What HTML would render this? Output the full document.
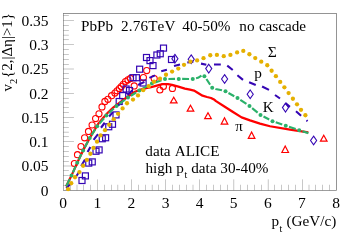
<!DOCTYPE html>
<html><head><meta charset="utf-8"><title>v2</title>
<style>html,body{margin:0;padding:0;background:#fff;}svg{display:block;will-change:transform;}text{font-family:"Liberation Serif",serif;fill:#000;font-kerning:none;}</style></head><body>
<svg width="352" height="249" viewBox="0 0 352 249">
<rect x="0" y="0" width="352" height="249" fill="#fff"/>
<g fill="#000"><rect x="63.14" y="13.20" width="273.37" height="0.42"/><rect x="63.14" y="190.06" width="273.37" height="0.38"/><rect x="63.18" y="13.41" width="0.34" height="176.84"/><rect x="336.09" y="13.41" width="0.42" height="176.84"/><rect x="63.35" y="185.29" width="5.50" height="0.22"/><rect x="63.35" y="180.44" width="5.50" height="0.22"/><rect x="63.35" y="175.59" width="5.50" height="0.22"/><rect x="63.35" y="170.74" width="5.50" height="0.22"/><rect x="63.35" y="165.89" width="10.60" height="0.22"/><rect x="63.35" y="161.04" width="5.50" height="0.22"/><rect x="63.35" y="156.19" width="5.50" height="0.22"/><rect x="63.35" y="151.34" width="5.50" height="0.22"/><rect x="63.35" y="146.49" width="5.50" height="0.22"/><rect x="63.35" y="141.64" width="10.60" height="0.22"/><rect x="63.35" y="136.79" width="5.50" height="0.22"/><rect x="63.35" y="131.94" width="5.50" height="0.22"/><rect x="63.35" y="127.09" width="5.50" height="0.22"/><rect x="63.35" y="122.24" width="5.50" height="0.22"/><rect x="63.35" y="117.39" width="10.60" height="0.22"/><rect x="63.35" y="112.54" width="5.50" height="0.22"/><rect x="63.35" y="107.69" width="5.50" height="0.22"/><rect x="63.35" y="102.84" width="5.50" height="0.22"/><rect x="63.35" y="97.99" width="5.50" height="0.22"/><rect x="63.35" y="93.14" width="10.60" height="0.22"/><rect x="63.35" y="88.29" width="5.50" height="0.22"/><rect x="63.35" y="83.44" width="5.50" height="0.22"/><rect x="63.35" y="78.59" width="5.50" height="0.22"/><rect x="63.35" y="73.74" width="5.50" height="0.22"/><rect x="63.35" y="68.89" width="10.60" height="0.22"/><rect x="63.35" y="64.04" width="5.50" height="0.22"/><rect x="63.35" y="59.19" width="5.50" height="0.22"/><rect x="63.35" y="54.34" width="5.50" height="0.22"/><rect x="63.35" y="49.49" width="5.50" height="0.22"/><rect x="63.35" y="44.64" width="10.60" height="0.22"/><rect x="63.35" y="39.79" width="5.50" height="0.22"/><rect x="63.35" y="34.94" width="5.50" height="0.22"/><rect x="63.35" y="30.09" width="5.50" height="0.22"/><rect x="63.35" y="25.24" width="5.50" height="0.22"/><rect x="63.35" y="20.39" width="10.60" height="0.22"/><rect x="63.35" y="15.54" width="5.50" height="0.22"/><rect x="70.06" y="184.75" width="0.22" height="5.50"/><rect x="76.89" y="184.75" width="0.22" height="5.50"/><rect x="83.71" y="184.75" width="0.22" height="5.50"/><rect x="90.54" y="184.75" width="0.22" height="5.50"/><rect x="97.36" y="179.35" width="0.22" height="10.90"/><rect x="104.18" y="184.75" width="0.22" height="5.50"/><rect x="111.01" y="184.75" width="0.22" height="5.50"/><rect x="117.83" y="184.75" width="0.22" height="5.50"/><rect x="124.65" y="184.75" width="0.22" height="5.50"/><rect x="131.48" y="179.35" width="0.22" height="10.90"/><rect x="138.30" y="184.75" width="0.22" height="5.50"/><rect x="145.12" y="184.75" width="0.22" height="5.50"/><rect x="151.95" y="184.75" width="0.22" height="5.50"/><rect x="158.77" y="184.75" width="0.22" height="5.50"/><rect x="165.60" y="179.35" width="0.22" height="10.90"/><rect x="172.42" y="184.75" width="0.22" height="5.50"/><rect x="179.24" y="184.75" width="0.22" height="5.50"/><rect x="186.07" y="184.75" width="0.22" height="5.50"/><rect x="192.89" y="184.75" width="0.22" height="5.50"/><rect x="199.71" y="179.35" width="0.22" height="10.90"/><rect x="206.54" y="184.75" width="0.22" height="5.50"/><rect x="213.36" y="184.75" width="0.22" height="5.50"/><rect x="220.19" y="184.75" width="0.22" height="5.50"/><rect x="227.01" y="184.75" width="0.22" height="5.50"/><rect x="233.83" y="179.35" width="0.22" height="10.90"/><rect x="240.66" y="184.75" width="0.22" height="5.50"/><rect x="247.48" y="184.75" width="0.22" height="5.50"/><rect x="254.30" y="184.75" width="0.22" height="5.50"/><rect x="261.13" y="184.75" width="0.22" height="5.50"/><rect x="267.95" y="179.35" width="0.22" height="10.90"/><rect x="274.78" y="184.75" width="0.22" height="5.50"/><rect x="281.60" y="184.75" width="0.22" height="5.50"/><rect x="288.42" y="184.75" width="0.22" height="5.50"/><rect x="295.25" y="184.75" width="0.22" height="5.50"/><rect x="302.07" y="179.35" width="0.22" height="10.90"/><rect x="308.89" y="184.75" width="0.22" height="5.50"/><rect x="315.72" y="184.75" width="0.22" height="5.50"/><rect x="322.54" y="184.75" width="0.22" height="5.50"/><rect x="329.37" y="184.75" width="0.22" height="5.50"/></g>
<text x="48.6" y="195.65" font-size="15.5" text-anchor="end">0</text><text x="48.6" y="171.40" font-size="15.5" text-anchor="end">0.05</text><text x="48.6" y="147.15" font-size="15.5" text-anchor="end">0.1</text><text x="48.6" y="122.90" font-size="15.5" text-anchor="end">0.15</text><text x="48.6" y="98.65" font-size="15.5" text-anchor="end">0.2</text><text x="48.6" y="74.40" font-size="15.5" text-anchor="end">0.25</text><text x="48.6" y="50.15" font-size="15.5" text-anchor="end">0.3</text><text x="48.6" y="25.90" font-size="15.5" text-anchor="end">0.35</text><text x="63.15" y="207.8" font-size="15.5" text-anchor="middle">0</text><text x="97.27" y="207.8" font-size="15.5" text-anchor="middle">1</text><text x="131.39" y="207.8" font-size="15.5" text-anchor="middle">2</text><text x="165.51" y="207.8" font-size="15.5" text-anchor="middle">3</text><text x="199.62" y="207.8" font-size="15.5" text-anchor="middle">4</text><text x="233.74" y="207.8" font-size="15.5" text-anchor="middle">5</text><text x="267.86" y="207.8" font-size="15.5" text-anchor="middle">6</text><text x="301.98" y="207.8" font-size="15.5" text-anchor="middle">7</text><text x="336.10" y="207.8" font-size="15.5" text-anchor="middle">8</text>
<text x="81" y="30.5" font-size="15.2">PbPb</text>
<text x="121.1" y="30.5" font-size="15.2" letter-spacing="0.13">2.76TeV</text>
<text x="182.3" y="30.5" font-size="15.2">40-50%</text>
<text x="239.3" y="30.5" font-size="15.2" word-spacing="0.6">no cascade</text>
<text x="145.3" y="155.5" font-size="15.2" word-spacing="0.4">data ALICE</text>
<text x="145.4" y="173" font-size="15.2" word-spacing="0.1">high p<tspan font-size="10" dy="5.3" dx="0.6">t</tspan><tspan dy="-5.3"> data 30-40%</tspan></text>
<text x="271.4" y="226.3" font-size="15.2">p<tspan font-size="10" dy="5.2" dx="0.5">t</tspan><tspan dy="-5.2" dx="0.5"> (GeV/c)</tspan></text>
<text x="267.8" y="57.1" font-size="15.6">Σ</text>
<text x="254.3" y="78.3" font-size="15.3">p</text>
<text x="262.8" y="111.9" font-size="15">K</text>
<text x="235.3" y="131.3" font-size="15">π</text>
<text transform="translate(12.35,91.6) rotate(-90)" font-size="15">v<tspan font-size="10.5" dy="4.5">2</tspan><tspan dy="-4.5" dx="0.8">{2,|Δη|&gt;1}</tspan></text>
<g fill="none" stroke="#ff0000" stroke-width="1.1"><circle cx="74.4" cy="163.5" r="3.05"/><circle cx="77.5" cy="154.7" r="3.05"/><circle cx="81" cy="146.5" r="3.05"/><circle cx="84.6" cy="137.8" r="3.05"/><circle cx="88.5" cy="131.4" r="3.05"/><circle cx="92.1" cy="125" r="3.05"/><circle cx="95.6" cy="118.6" r="3.05"/><circle cx="99" cy="113.8" r="3.05"/><circle cx="102.0" cy="106.9" r="3.05"/><circle cx="104.9" cy="101.4" r="3.05"/><circle cx="107.9" cy="99.3" r="3.05"/><circle cx="111.6" cy="95.7" r="3.05"/><circle cx="114.9" cy="93.1" r="3.05"/><circle cx="117.1" cy="90.8" r="3.05"/><circle cx="119.4" cy="88.6" r="3.05"/><circle cx="121.3" cy="86.6" r="3.05"/><circle cx="123.3" cy="84.3" r="3.05"/><circle cx="125.5" cy="81.5" r="3.05"/><circle cx="128.0" cy="79.8" r="3.05"/><circle cx="130.5" cy="78.4" r="3.05"/><circle cx="134.2" cy="85.9" r="3.05"/><circle cx="143.4" cy="77.6" r="3.05"/><circle cx="146.7" cy="70.6" r="3.05"/><circle cx="154.2" cy="78.6" r="3.05"/><circle cx="159.9" cy="90" r="3.05"/><circle cx="163.4" cy="86.5" r="3.05"/><circle cx="172.4" cy="88.4" r="3.05"/></g>
<g fill="none" stroke="#3506b4" stroke-width="1.2"><rect x="79.00" y="177.50" width="6.0" height="6.0"/><rect x="82.40" y="172.90" width="6.0" height="6.0"/><rect x="85.75" y="160.10" width="6.0" height="6.0"/><rect x="89.25" y="158.90" width="6.0" height="6.0"/><rect x="93.00" y="148.25" width="6.0" height="6.0"/><rect x="96.10" y="146.90" width="6.0" height="6.0"/><rect x="99.25" y="135.75" width="6.0" height="6.0"/><rect x="102.60" y="134.75" width="6.0" height="6.0"/><rect x="105.75" y="123.75" width="6.0" height="6.0"/><rect x="109.50" y="121.25" width="6.0" height="6.0"/><rect x="113.00" y="111.90" width="6.0" height="6.0"/><rect x="116.20" y="98.50" width="6.0" height="6.0"/><rect x="119.70" y="92.60" width="6.0" height="6.0"/><rect x="123.10" y="86.00" width="6.0" height="6.0"/><rect x="126.50" y="87.50" width="6.0" height="6.0"/><rect x="130.00" y="74.70" width="6.0" height="6.0"/><rect x="133.45" y="74.70" width="6.0" height="6.0"/><rect x="136.65" y="66.20" width="6.0" height="6.0"/><rect x="140.10" y="80.00" width="6.0" height="6.0"/><rect x="143.50" y="54.50" width="6.0" height="6.0"/><rect x="147.00" y="57.60" width="6.0" height="6.0"/><rect x="150.00" y="62.60" width="6.0" height="6.0"/><rect x="153.90" y="52.00" width="6.0" height="6.0"/><rect x="157.25" y="50.75" width="6.0" height="6.0"/><rect x="160.50" y="45.10" width="6.0" height="6.0"/><rect x="168.50" y="56.50" width="6.0" height="6.0"/></g>
<g fill="none" stroke="#ff0000" stroke-width="1.2" stroke-linejoin="miter"><path d="M173.75,97.3 L177.05,102.9 L170.45,102.9 Z"/><path d="M190.5,105.2 L193.8,111.10000000000001 L187.2,111.10000000000001 Z"/><path d="M208,112.8 L211.3,118.7 L204.7,118.7 Z"/><path d="M224.5,117.8 L227.8,124.10000000000001 L221.2,124.10000000000001 Z"/><path d="M251.6,132.0 L254.9,138.4 L248.29999999999998,138.4 Z"/><path d="M285.2,146.10000000000002 L288.5,152.5 L281.9,152.5 Z"/><path d="M323.75,135.20000000000002 L327.05,141.20000000000002 L320.45,141.20000000000002 Z"/></g>
<g fill="none" stroke="#3506b4" stroke-width="1.1"><path d="M174.9,54.35 L177.95000000000002,58.7 L174.9,63.050000000000004 L171.85,58.7 Z"/><path d="M191.2,54.85 L194.25,59.2 L191.2,63.550000000000004 L188.14999999999998,59.2 Z"/><path d="M208.75,64.25 L211.8,68.6 L208.75,72.94999999999999 L205.7,68.6 Z"/><path d="M224.6,74.65 L227.65,79 L224.6,83.35 L221.54999999999998,79 Z"/><path d="M250.2,89.95 L253.25,94.3 L250.2,98.64999999999999 L247.14999999999998,94.3 Z"/><path d="M285.5,103.25 L288.55,107.6 L285.5,111.94999999999999 L282.45,107.6 Z"/><path d="M313.6,136.15 L316.65000000000003,140.5 L313.6,144.85 L310.55,140.5 Z"/></g>
<path d="M66.10,186.40 L71.50,175.60 L77.25,162.75 L83.10,150.50 L89.75,138.00 L94.00,131.00 L98.50,123.40 L103.00,118.00 L108.00,112.50 L113.50,107.30 L120.00,102.30 L128.00,96.50 L135.00,91.70 L140.00,89.90 L146.00,88.20 L150.00,87.50 L155.00,86.20 L162.50,84.20 L168.00,84.10 L172.00,84.80 L178.40,86.70 L184.90,88.60 L190.00,89.70 L194.00,90.60 L196.00,91.70 L202.50,95.70 L207.00,97.00 L211.00,98.00 L214.50,99.80 L216.00,101.10 L224.00,106.20 L233.00,112.00 L241.60,117.40 L250.00,120.40 L260.00,123.60 L270.00,126.25 L290.00,129.60 L308.30,132.40" fill="none" stroke="#ff0000" stroke-width="2.25" stroke-linejoin="round"/>
<path d="M66.30,188.20 L70.20,184.00 M76.25,176.25 L78.75,172.50 M81.20,166.00 L85.00,159.60 M87.60,152.10 L90.40,146.90 M93.60,139.80 L98.00,134.20 M101.00,127.75 L104.75,122.75 M109.10,116.50 L112.90,112.10 M118.00,105.80 L122.00,101.20 M127.50,95.00 L132.50,90.30 M138.10,85.00 L144.40,81.90 M149.40,77.90 L155.00,75.40 M161.25,71.25 L166.90,69.75 M174.00,66.00 L180.00,64.40 M187.30,62.50 L193.30,61.60 M201.00,63.60 L206.30,64.70 M214.00,64.50 L220.80,64.50 M227.25,65.60 L232.75,70.00 M237.40,75.25 L243.00,79.90 M249.10,82.25 L255.75,85.00 M262.10,86.50 L269.00,89.90 M275.00,95.00 L280.00,98.50 M285.40,103.10 L289.90,106.90 M296.00,111.30 L301.10,115.70 M306.50,120.30 L307.50,121.20 " fill="none" stroke="#3506b4" stroke-width="2.1"/>
<path d="M66.20,186.20 L69.85,178.91 M72.89,172.50 L75.74,166.13 M78.72,159.68 L81.51,153.84 M84.70,147.50 L88.01,141.27 M91.57,135.13 L95.22,129.33 M99.40,123.61 L104.00,118.22 M108.89,113.08 L113.79,108.52 M119.23,103.98 L125.02,99.70 M130.90,95.73 L136.14,92.53 M142.26,88.93 L148.68,85.32 M155.12,82.40 L161.50,80.20 M168.40,78.98 L175.05,78.93 M182.15,78.92 L189.05,78.97 M196.06,78.24 L198.00,77.80 L201.44,75.56 M206.42,78.98 L210.00,84.50 L210.15,84.72 M215.41,88.93 L215.60,89.00 L221.90,90.20 L221.96,90.22 M228.47,92.96 L234.27,96.20 M240.33,99.89 L246.42,103.95 M252.13,108.15 L257.64,112.66 M263.52,116.57 L269.22,119.54 M275.72,122.34 L282.25,124.56 M288.98,126.82 L295.69,129.04 M302.44,131.22 L308.40,133.10" fill="none" stroke="#2bb16a" stroke-width="2.15" stroke-linejoin="round"/>
<g fill="#2bb16a"><circle cx="71.5" cy="175.6" r="2.0"/><circle cx="77.25" cy="162.75" r="2.0"/><circle cx="83.1" cy="150.5" r="2.0"/><circle cx="89.75" cy="138" r="2.0"/><circle cx="97.2" cy="126.2" r="2.0"/><circle cx="106.4" cy="115.4" r="2.0"/><circle cx="116.5" cy="106" r="2.0"/><circle cx="128" cy="97.5" r="2.0"/><circle cx="139.3" cy="90.6" r="2.0"/><circle cx="151.9" cy="83.5" r="2.0"/><circle cx="165" cy="79" r="2.0"/><circle cx="178.75" cy="78.9" r="2.0"/><circle cx="192.75" cy="79" r="2.0"/><circle cx="204.4" cy="76.25" r="2.0"/><circle cx="212.2" cy="87.8" r="2.0"/><circle cx="225.5" cy="91.3" r="2.0"/><circle cx="237.5" cy="98" r="2.0"/><circle cx="249.5" cy="106" r="2.0"/><circle cx="260.5" cy="115" r="2.0"/><circle cx="272.5" cy="121.25" r="2.0"/><circle cx="285.75" cy="125.75" r="2.0"/><circle cx="299.2" cy="130.2" r="2.0"/></g>
<g fill="#e5b000"><circle cx="68.1" cy="189.15" r="2.15"/><circle cx="71.25" cy="183.25" r="2.15"/><circle cx="75" cy="177.25" r="2.15"/><circle cx="79.4" cy="172.05" r="2.15"/><circle cx="83.1" cy="165.75" r="2.15"/><circle cx="86.9" cy="159.95000000000002" r="2.15"/><circle cx="90.4" cy="153.75" r="2.15"/><circle cx="93.5" cy="147.9" r="2.15"/><circle cx="97" cy="141.65" r="2.15"/><circle cx="100.6" cy="135.4" r="2.15"/><circle cx="105" cy="130.15" r="2.15"/><circle cx="109.2" cy="124.75" r="2.15"/><circle cx="113.7" cy="119.15" r="2.15"/><circle cx="118.1" cy="113.85000000000001" r="2.15"/><circle cx="122.6" cy="108.45" r="2.15"/><circle cx="127" cy="103.25" r="2.15"/><circle cx="133" cy="99.55000000000001" r="2.15"/><circle cx="138" cy="95.4" r="2.15"/><circle cx="143.2" cy="90.15" r="2.15"/><circle cx="148.75" cy="86.25" r="2.15"/><circle cx="154" cy="81.75" r="2.15"/><circle cx="160" cy="78.65" r="2.15"/><circle cx="166" cy="74.75" r="2.15"/><circle cx="172.1" cy="71.55000000000001" r="2.15"/><circle cx="178.3" cy="68.55000000000001" r="2.15"/><circle cx="184" cy="64.85000000000001" r="2.15"/><circle cx="190.4" cy="61.65" r="2.15"/><circle cx="197.1" cy="60.449999999999996" r="2.15"/><circle cx="203.5" cy="58.15" r="2.15"/><circle cx="210.25" cy="55.25" r="2.15"/><circle cx="216.9" cy="54.9" r="2.15"/><circle cx="223.75" cy="56.15" r="2.15"/><circle cx="230.4" cy="54.9" r="2.15"/><circle cx="237.1" cy="52.4" r="2.15"/><circle cx="243.3" cy="50.9" r="2.15"/><circle cx="249.4" cy="54.25" r="2.15"/><circle cx="255.25" cy="58.05" r="2.15"/><circle cx="261.25" cy="61.699999999999996" r="2.15"/><circle cx="267.25" cy="65.25" r="2.15"/><circle cx="271.6" cy="70.75" r="2.15"/><circle cx="275.9" cy="76.15" r="2.15"/><circle cx="280.2" cy="81.95" r="2.15"/><circle cx="284.4" cy="87.35000000000001" r="2.15"/><circle cx="288.6" cy="93.05000000000001" r="2.15"/><circle cx="292.9" cy="98.75" r="2.15"/><circle cx="297" cy="104.35000000000001" r="2.15"/><circle cx="301" cy="109.85000000000001" r="2.15"/><circle cx="305.4" cy="115.25" r="2.15"/></g>
</svg></body></html>
